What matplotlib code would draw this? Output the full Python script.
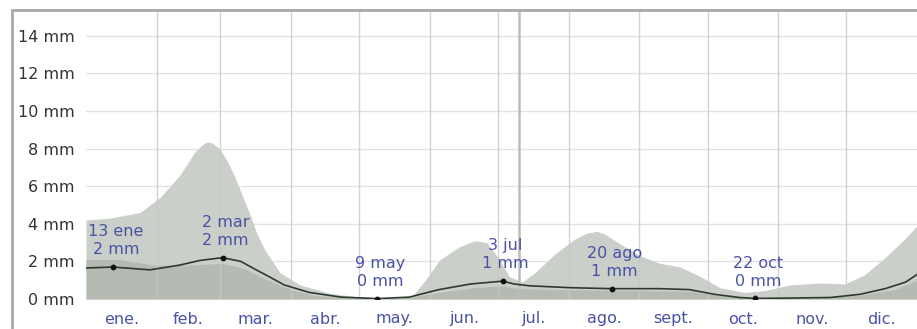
import matplotlib
matplotlib.use("Agg")
import matplotlib.pyplot as plt
from matplotlib.patches import Rectangle

# ---- data (day of year, mm) ----
upper_days = [0, 10.5, 23.7, 32.5, 37, 41.3, 45, 48, 51, 53.1, 55.5, 58.9, 62, 65.4, 69,
              72, 75, 78.6, 85.2, 94, 107.2,
              120.3, 137.9, 143, 149, 155.5, 164.3, 171, 176, 181, 186, 191.5, 197.2, 206,
              214.8, 220, 224.4, 228, 232.3, 243.3, 252, 261, 269.8, 278.5, 289.4, 298.2,
              309.2, 322.4, 333.4, 342.1, 351, 359.7, 365]
upper_vals = [4.2, 4.3, 4.6, 5.4, 6.0, 6.6, 7.3, 7.85, 8.2, 8.35, 8.3, 7.95, 7.35, 6.5, 5.4,
              4.5, 3.5, 2.6, 1.4, 0.75, 0.3,
              0.1, 0.05, 0.1, 1.0, 2.1, 2.8, 3.1, 3.0, 2.2, 1.2, 0.9, 1.4, 2.4,
              3.2, 3.5, 3.6, 3.45, 3.1, 2.3, 1.9, 1.7, 1.2, 0.6, 0.35, 0.45,
              0.75, 0.85, 0.8, 1.3, 2.2, 3.2, 3.9]

dark_days = [0, 15, 30, 45, 60, 70, 80, 90, 100, 115, 140, 155, 170, 183, 190, 210,
             240, 265, 280, 295, 320, 340, 355, 365]
dark_vals = [2.1, 2.1, 1.8, 1.8, 1.9, 1.6, 1.0, 0.5, 0.2, 0.05, 0.05, 0.35, 0.6, 0.7,
             0.55, 0.5, 0.45, 0.4, 0.15, 0.02, 0.05, 0.2, 0.5, 1.0]

mean_days = [0, 12, 28, 41, 50, 60, 68, 74, 81, 87, 98, 112, 128, 142, 155, 169, 183,
             188, 195, 213, 231, 252, 265, 276, 287, 294, 309, 327, 340, 351, 360, 365]
mean_vals = [1.65, 1.7, 1.55, 1.8, 2.05, 2.2, 2.0, 1.6, 1.15, 0.75, 0.35, 0.1, 0.02, 0.1,
             0.5, 0.8, 0.95, 0.8, 0.7, 0.6, 0.55, 0.55, 0.5, 0.25, 0.08, 0.03, 0.05,
             0.08, 0.25, 0.55, 0.9, 1.3]

mark_days = [12, 60, 128, 183, 231, 294]
mark_vals = [1.7, 2.2, 0.02, 0.95, 0.55, 0.03]
mark_labels = ["13 ene\n2 mm", "2 mar\n2 mm", "9 may\n0 mm", "3 jul\n1 mm",
               "20 ago\n1 mm", "22 oct\n0 mm"]

month_starts = [31, 59, 90, 120, 151, 181, 212, 243, 273, 304, 334]
month_mids = [15.5, 45, 74.5, 105, 135.5, 166, 196.5, 227.5, 258, 288.5, 319, 349.5]
month_labels = ["ene.", "feb.", "mar.", "abr.", "may.", "jun.", "jul.", "ago.",
                "sept.", "oct.", "nov.", "dic."]
ytick_vals = [0, 2, 4, 6, 8, 10, 12, 14]
ytick_labels = [f"{v} mm" for v in ytick_vals]
today_day = 190

W, H = 917, 329
fig = plt.figure(figsize=(W / 100, H / 100), dpi=100)
ax = fig.add_axes([86 / W, 30 / H, (W - 86) / W, (299 - 10) / H])
ax.set_xlim(0, 365)
ax.set_ylim(0, (299 - 10) / 18.8)

for v in ytick_vals:
    ax.axhline(v, color="#e2e2e2", lw=1, zorder=0)

ax.fill_between(upper_days, 0, upper_vals, color="#cacfc9", lw=0, zorder=1)
ax.fill_between(dark_days, 0, dark_vals, color="#b5bab3", lw=0, zorder=2)

for d in month_starts:
    ax.axvline(d, color="#c8c8c8", lw=1, zorder=3, alpha=0.8)
ax.axvline(today_day, color="#bdbdbd", lw=1.8, zorder=3)

ax.plot(mean_days, mean_vals, color="#2f3a2f", lw=1.2, zorder=4)
ax.scatter(mark_days, mark_vals, s=10, color="#111111", zorder=5)

for d, v, lab in zip(mark_days, mark_vals, mark_labels):
    ax.annotate(lab, (d, v), xytext=(2, 7), textcoords="offset points",
                ha="center", va="bottom", fontsize=11.5, color="#4a52a6",
                linespacing=1.25, zorder=6)

ax.set_yticks(ytick_vals)
ax.set_yticklabels(ytick_labels, fontsize=11.5, color="#333333")
ax.set_xticks(month_mids)
ax.set_xticklabels(month_labels, fontsize=11.5, color="#4a52a6")
ax.tick_params(axis="both", length=0)
ax.tick_params(axis="x", pad=9)
ax.tick_params(axis="y", pad=8)
for s in ax.spines.values():
    s.set_visible(False)

fig.add_artist(Rectangle((12 / W, -0.1), 1.0, 1.1 - 10 / H, transform=fig.transFigure,
                         fill=False, edgecolor="#a8a8a8", lw=2, zorder=10))

fig.savefig("out.png", dpi=100)
